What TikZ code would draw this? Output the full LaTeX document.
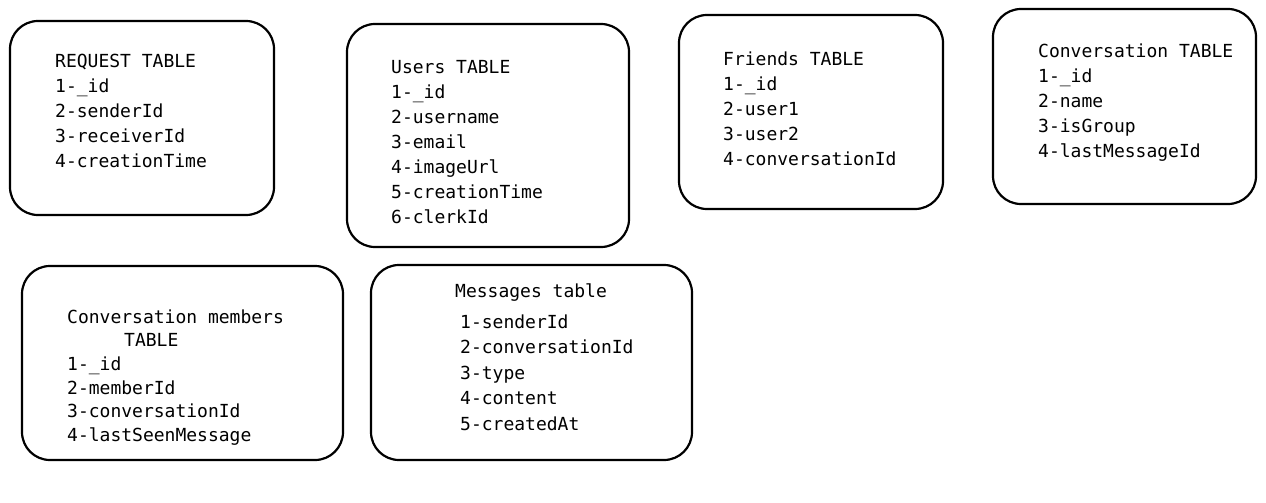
\documentclass[tikz,border=0pt]{standalone}
\usepackage{fontspec}
\setmonofont{DejaVu Sans Mono}
\usepackage{tikz}
\usetikzlibrary{positioning}

\begin{document}
\begin{tikzpicture}[x=1pt, y=-1pt,
  tbl/.style={rectangle, draw, line width=2.2pt, rounded corners=28pt, line join=round},
  cols/.style={font=\ttfamily\fontsize{18}{25}\selectfont, align=left, anchor=base west, inner sep=0pt}
]
\useasboundingbox (0,0) rectangle (1266,503);

% obere Reihe (Textknoten sitzen auf der Grundlinie der letzten Zeile)
\node[tbl, minimum width=264pt, minimum height=194pt] (req) at (142,118) {};
\node[cols] (reqtxt) at (55,167) {REQUEST TABLE\\1-\_id\\2-senderId\\3-receiverId\\4-creationTime};

\node[tbl, minimum width=282pt, minimum height=223pt] (users) at (488,135.5) {};
\node[cols] (userstxt) at (391,223) {Users TABLE\\1-\_id\\2-username\\3-email\\4-imageUrl\\5-creationTime\\6-clerkId};

\node[tbl, minimum width=264pt, minimum height=194pt] (friends) at (811,112) {};
\node[cols] (friendstxt) at (723,165) {Friends TABLE\\1-\_id\\2-user1\\3-user2\\4-conversationId};

\node[tbl, minimum width=263pt, minimum height=195pt] (conv) at (1124.5,106.5) {};
\node[cols] (convtxt) at (1038,157) {Conversation TABLE\\1-\_id\\2-name\\3-isGroup\\4-lastMessageId};

% untere Reihe
\node[tbl, minimum width=321pt, minimum height=194pt] (members) at (182.5,363) {};
\node[cols, font=\ttfamily\fontsize{18}{23.7}\selectfont] (memberstxt) at (67,441.5)
  {Conversation members\\\hspace*{57pt}TABLE\\1-\_id\\2-memberId\\3-conversationId\\4-lastSeenMessage};

\node[tbl, minimum width=321pt, minimum height=195pt] (msgs) at (531.5,362.5) {};
\node[cols, font=\ttfamily\fontsize{18}{25.4}\selectfont] (msgstxt) at (455,430)
  {Messages table\\[5.6pt]\hspace*{5pt}1-senderId\\\hspace*{5pt}2-conversationId\\\hspace*{5pt}3-type\\\hspace*{5pt}4-content\\\hspace*{5pt}5-createdAt};
\end{tikzpicture}
\end{document}
